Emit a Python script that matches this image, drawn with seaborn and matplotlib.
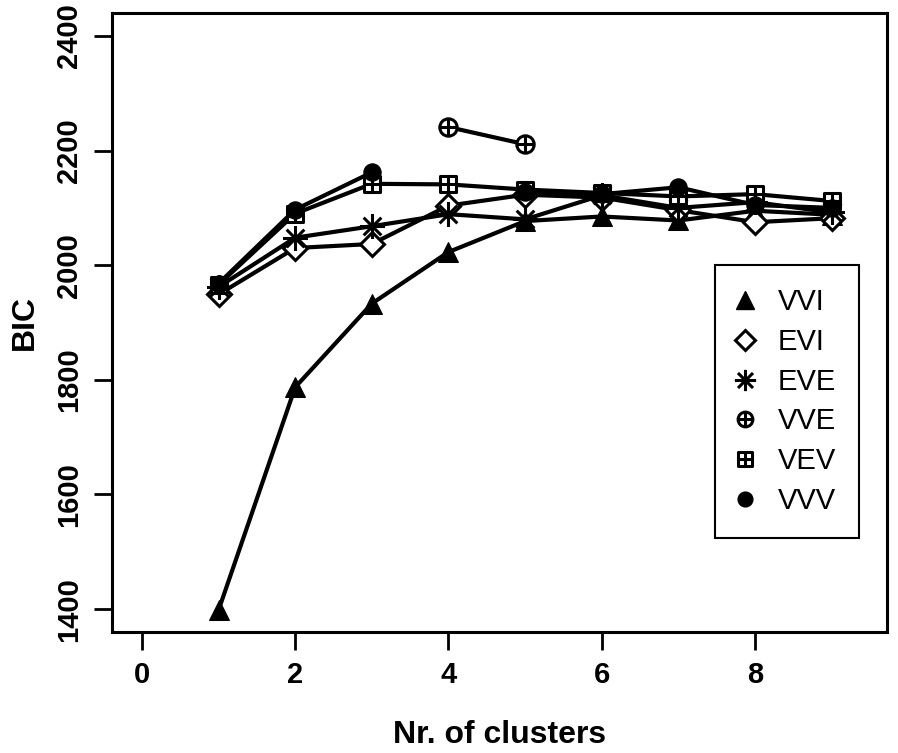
import numpy as np
import pandas as pd
import seaborn as sns
import matplotlib.pyplot as plt
from matplotlib.path import Path
from matplotlib.lines import Line2D

# BIC values, nan = model not fitted
clusters = [1, 2, 3, 4, 5, 6, 7, 8, 9]
models = ["VVI", "EVI", "EVE", "VVE", "VEV", "VVV"]
bic_VVI = [1398, 1787, 1933, 2023, 2077, 2085, 2078, 2095, 2088]
bic_EVI = [1949, 2030, 2037, 2104, 2123, 2118, 2096, 2075, 2082]
bic_EVE = [1962, 2048, 2068, 2089, 2080, 2122, 2100, 2110, 2092]
bic_VVE = [np.nan, np.nan, np.nan, 2241, 2211, np.nan, np.nan, np.nan, np.nan]
bic_VEV = [1966, 2090, 2142, 2141, 2132, 2126, 2120, 2124, 2112]
bic_VVV = [1968, 2097, 2162, np.nan, 2128, 2124, 2136, 2105, 2100]
bic = dict(VVI=bic_VVI, EVI=bic_EVI, EVE=bic_EVE, VVE=bic_VVE, VEV=bic_VEV, VVV=bic_VVV)

rows = []
for m in models:
    for k, v in zip(clusters, bic[m]):
        rows.append({"model": m, "k": k, "BIC": v})
df = pd.DataFrame(rows)
# split on gaps so missing models do not get bridged
df["seg"] = df.groupby("model")["BIC"].transform(lambda s: s.isna().cumsum())
df = df.dropna()


def lines(pairs):
    verts, codes = [], []
    for a, b in pairs:
        verts += [a, b]
        codes += [Path.MOVETO, Path.LINETO]
    return Path(verts, codes)


cross = lines([((-1, 0), (1, 0)), ((0, -1), (0, 1))])
circ_plus = Path.make_compound_path(Path.unit_circle(), cross)
square = Path([(-1, -1), (1, -1), (1, 1), (-1, 1), (-1, -1)],
              [Path.MOVETO, Path.LINETO, Path.LINETO, Path.LINETO, Path.CLOSEPOLY])
sq_plus = Path.make_compound_path(square, cross)
d = 0.7071
star = lines([((-1, 0), (1, 0)), ((0, -1), (0, 1)), ((-d, -d), (d, d)), ((-d, d), (d, -d))])

style = {
    "VVI": dict(marker="^", markersize=15, markerfacecolor="black"),
    "EVI": dict(marker="D", markersize=12, markerfacecolor="white", markeredgewidth=2.2),
    "EVE": dict(marker=star, markersize=18, markeredgewidth=2.2),
    "VVE": dict(marker=circ_plus, markersize=12.5, markerfacecolor="white", markeredgewidth=2.2),
    "VEV": dict(marker=sq_plus, markersize=12, markerfacecolor="white", markeredgewidth=2.2),
    "VVV": dict(marker="o", markersize=12.5, markerfacecolor="black"),
}

sns.set_theme(style="ticks")
plt.rcParams["font.family"] = ["Liberation Sans Narrow", "Liberation Sans", "DejaVu Sans"]
plt.rcParams["text.color"] = "black"
plt.rcParams["axes.labelcolor"] = "black"
plt.rcParams["xtick.color"] = "black"
plt.rcParams["ytick.color"] = "black"

fig = plt.figure(figsize=(8.98, 7.53), dpi=100)
ax = fig.add_axes([0.1247, 0.1607, 0.863, 0.822])

for m in models:
    sub = df[df["model"] == m]
    sns.lineplot(data=sub, x="k", y="BIC", units="seg", estimator=None, ax=ax,
                 color="black", linewidth=3, markeredgecolor="black", **style[m])

ax.set_xlim(-0.39, 9.72)
ax.set_ylim(1360, 2440)
ax.set_xticks([0, 2, 4, 6, 8])
ax.set_yticks([1400, 1600, 1800, 2000, 2200, 2400])
ax.tick_params(direction="out", length=13, width=2, labelsize=21, pad=8,
               color="black", labelcolor="black")
for lab in ax.get_xticklabels() + ax.get_yticklabels():
    lab.set_fontweight("bold")
for lab in ax.get_yticklabels():
    lab.set_rotation(90)
    lab.set_va("center")
for sp in ax.spines.values():
    sp.set_visible(True)
    sp.set_linewidth(2.2)
    sp.set_color("black")

ax.set_xlabel("Nr. of clusters", fontsize=23, fontweight="bold", labelpad=22, color="black")
ax.set_ylabel("BIC", fontsize=23, fontweight="bold", labelpad=11, color="black")

handles = []
for m in models:
    st = dict(style[m])
    st["markersize"] = st["markersize"] * 0.85
    handles.append(Line2D([], [], color="black", linewidth=0, markeredgecolor="black", **st))
leg = ax.legend(handles, models, loc="upper left", bbox_to_anchor=(0.796, 0.648),
                bbox_transform=fig.transFigure, frameon=True, fancybox=False,
                fontsize=21, handlelength=0.5, handletextpad=0.85, labelspacing=0.4,
                borderpad=0.8, borderaxespad=0)
for t in leg.get_texts():
    t.set_color("black")
leg.get_frame().set_edgecolor("black")
leg.get_frame().set_linewidth(1.5)
leg.get_frame().set_alpha(1)

plt.savefig("out.png", dpi=100)
